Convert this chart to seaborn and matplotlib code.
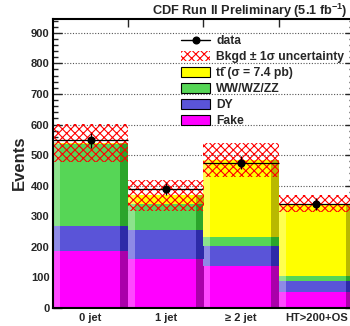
import numpy as np
import pandas as pd
import seaborn as sns
import matplotlib
matplotlib.use("Agg")
import matplotlib.pyplot as plt
from matplotlib.patches import Patch
from matplotlib.lines import Line2D
from matplotlib.ticker import MultipleLocator, FixedLocator

# Event yields per jet bin
bins = ["0 jet", "1 jet", "\u2265 2 jet", "HT>200+OS"]
fake = [186, 159, 137, 53]
dy = [82, 95, 66, 35]
diboson = [268, 85, 29, 16]
ttbar = [4, 29, 252, 237]
bkgd_err = [62, 50, 57, 27]
data = [548, 390, 475, 340]

sns.set_style("ticks")
plt.rcParams["font.family"] = ["Liberation Sans", "DejaVu Sans"]
plt.rcParams["mathtext.fontset"] = "custom"
plt.rcParams["mathtext.rm"] = "Liberation Sans:bold"
plt.rcParams["mathtext.bf"] = "Liberation Sans:bold"
plt.rcParams["mathtext.it"] = "Liberation Sans:bold"
plt.rcParams["hatch.linewidth"] = 0.8

W, H = 350, 326
fig = plt.figure(figsize=(W / 100, H / 100), dpi=100)
ax = fig.add_axes([53 / W, 18 / H, 301 / W, 289 / H])

# stacked processes, bottom to top: (name, values, main, light, dark)
layers = [
    ("Fake", fake, "#ff00ff", "#ff48ff", "#aa00aa"),
    ("DY", dy, "#5a54d8", "#8e8ae6", "#2d2aa8"),
    ("WW/WZ/ZZ", diboson, "#56d656", "#8ce28c", "#2ba52b"),
    ("tt", ttbar, "#ffff00", "#ffff50", "#b9b900"),
]

tops = np.cumsum([np.asarray(v, float) for _, v, *_ in layers], axis=0)
bottoms = np.vstack([np.zeros(len(bins)), tops[:-1]])
total = tops[-1]
pos = np.arange(len(bins))

df = pd.DataFrame({"bin": bins})
# draw from top of stack downwards so each lower layer covers the one above
for k in range(len(layers) - 1, -1, -1):
    name, vals, main, light, dark = layers[k]
    df["top"] = tops[k]
    sns.barplot(data=df, x="bin", y="top", order=bins, color=main,
                saturation=1, width=1.0, errorbar=None, linewidth=0, ax=ax)

# bevel shading strips on the left and right of each bin
lw_frac, rw_frac = 0.09, 0.105
for k, (name, vals, main, light, dark) in enumerate(layers):
    ax.bar(pos - 0.5 + lw_frac / 2, tops[k] - bottoms[k], bottom=bottoms[k],
           width=lw_frac, color=light, linewidth=0)
    ax.bar(pos + 0.5 - rw_frac / 2, tops[k] - bottoms[k], bottom=bottoms[k],
           width=rw_frac, color=dark, linewidth=0)

# background uncertainty band
err = np.asarray(bkgd_err, float)
ax.bar(pos, 2 * err, bottom=total - err, width=1.0, facecolor="none",
       edgecolor="red", hatch="xxxx", linewidth=0)

# data points with bin-width horizontal bars
d = np.asarray(data, float)
ax.errorbar(pos, d, xerr=0.5, yerr=np.sqrt(d), fmt="o", color="black",
            ms=4.8, elinewidth=0.9, capsize=0, zorder=5)

ax.set_xlim(-0.5, len(bins) - 0.5)
ax.set_ylim(0, 945)
ax.set_xlabel("")
ax.set_ylabel("Events", fontsize=12, fontweight="bold")
ax.yaxis.set_label_coords(-0.088, 0.502)

ax.yaxis.set_major_locator(MultipleLocator(100))
ax.yaxis.set_minor_locator(MultipleLocator(20))
ax.set_yticks(np.arange(0, 901, 100))
ax.set_yticklabels([str(v) for v in range(0, 901, 100)], fontweight="bold", fontsize=8)
ax.tick_params(axis="y", which="major", direction="in", length=6.5, width=1.0,
               left=True, right=True, pad=2.5)
ax.tick_params(axis="y", which="minor", direction="in", length=3.5, width=1.0,
               left=True, right=True)

ax.set_xticks(pos)
ax.set_xticklabels(bins, fontweight="bold", fontsize=8)
ax.xaxis.set_minor_locator(FixedLocator(pos[:-1] + 0.5))
ax.tick_params(axis="x", which="major", length=0, pad=3.5)
ax.tick_params(axis="x", which="minor", direction="in", length=5.5, width=1.0,
               top=True, bottom=True)

ax.set_axisbelow(True)
ax.yaxis.grid(True, which="major", linestyle=(0, (1, 1.5)), color="#555555",
              linewidth=0.8)
ax.xaxis.grid(False)
for s in ax.spines.values():
    s.set_linewidth(1.5)
    s.set_color("black")
    s.set_visible(True)

handles = [
    Line2D([], [], color="black", marker="o", ms=4.8, lw=1.0),
    Patch(facecolor="none", edgecolor="red", hatch="xxxx", linewidth=0),
    Patch(facecolor=layers[3][2], edgecolor="black", linewidth=0.8),
    Patch(facecolor=layers[2][2], edgecolor="black", linewidth=0.8),
    Patch(facecolor=layers[1][2], edgecolor="black", linewidth=0.8),
    Patch(facecolor=layers[0][2], edgecolor="black", linewidth=0.8),
]
labels = [
    "data",
    "Bkgd \u00b1 1\u03c3 uncertainty",
    "tt\u0304 (\u03c3 = 7.4 pb)",
    "WW/WZ/ZZ",
    "DY",
    "Fake",
]
leg = ax.legend(handles, labels, loc="upper left",
                bbox_to_anchor=(181 / W, 1 - 35 / H), bbox_transform=fig.transFigure,
                frameon=False, borderpad=0, borderaxespad=0,
                handlelength=2.4, handleheight=0.95, handletextpad=0.5,
                labelspacing=0.3, prop={"weight": "bold", "size": 8.7})

fig.text(348 / W, 1 - 15 / H, r"CDF Run II Preliminary (5.1 fb$^{-1}$)",
         ha="right", va="baseline", fontweight="bold", fontsize=9.2)

fig.savefig("out.png", dpi=100)
